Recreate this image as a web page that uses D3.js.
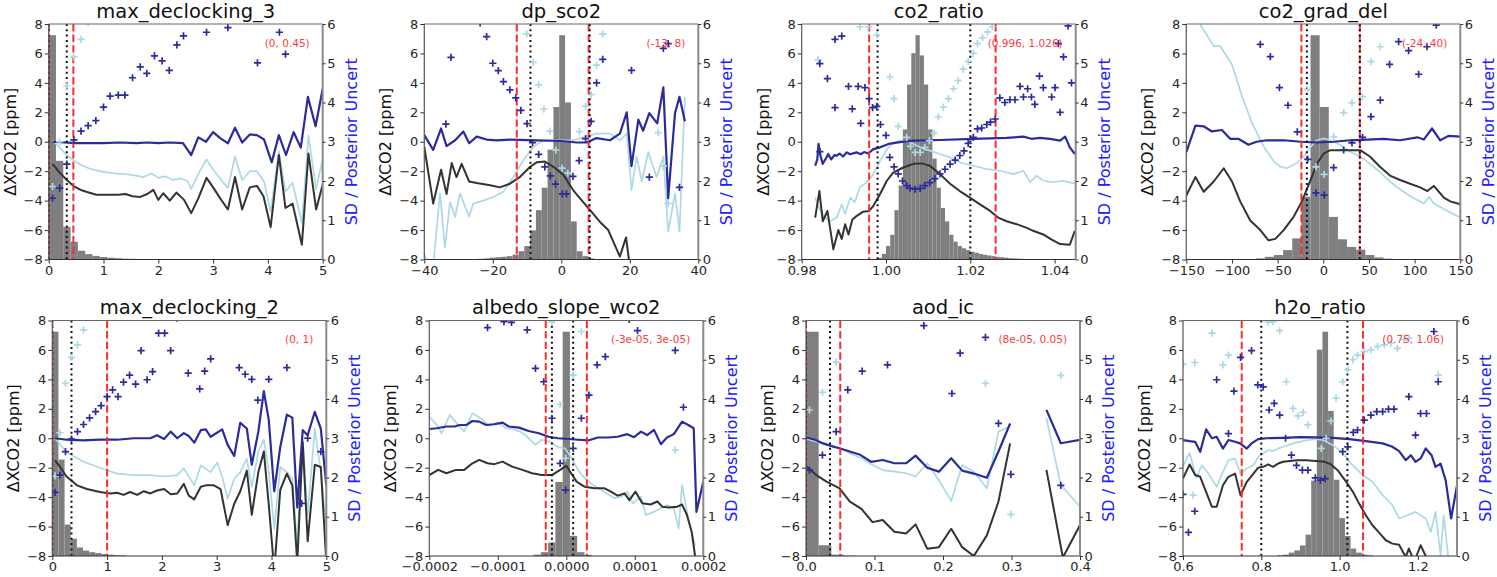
<!DOCTYPE html>
<html><head><meta charset="utf-8">
<script src="https://cdn.jsdelivr.net/npm/d3@7"></script>
<style>body{margin:0;background:#fff}svg text{font-family:"DejaVu Sans",sans-serif}</style>
</head><body><svg id="c" width="1497" height="577"></svg>
<script>
// ---------------- DATA ----------------
const titles = ["max_declocking_3","dp_sco2","co2_ratio","co2_grad_del","max_declocking_2","albedo_slope_wco2","aod_ic","h2o_ratio"];
const xDomains = [[0,5],[-40,40],[0.98,1.045],[-150,150],[0,5],[-2e-4,2e-4],[0,0.4],[0.6,1.3]];
const xTicks = [[0,1,2,3,4,5],[-40,-20,0,20,40],[0.98,1.0,1.02,1.04],[-150,-100,-50,0,50,100,150],[0,1,2,3,4,5],[-2e-4,-1e-4,0,1e-4,2e-4],[0,0.1,0.2,0.3,0.4],[0.6,0.8,1.0,1.2]];
const xTickLabels = [["0","1","2","3","4","5"],["−40","−20","0","20","40"],["0.98","1.00","1.02","1.04"],["−150","−100","−50","0","50","100","150"],["0","1","2","3","4","5"],["−0.0002","−0.0001","0.0000","0.0001","0.0002"],["0.0","0.1","0.2","0.3","0.4"],["0.6","0.8","1.0","1.2"]];
const yLeftTicks = [-8,-6,-4,-2,0,2,4,6,8];
const yLeftLabels = ["−8","−6","−4","−2","0","2","4","6","8"];
const yRightTicks = [0,1,2,3,4,5,6];
const yLeftTitle = "ΔXCO2 [ppm]";
const yRightTitle = "SD / Posterior Uncert";
const rangeLabels = ["(0, 0.45)","(-13, 8)","(0.996, 1.026)","(-24, 40)","(0, 1)","(-3e-05, 3e-05)","(8e-05, 0.05)","(0.75, 1.06)"];
const redBounds = [[0,0.45],[-13,8],[0.996,1.026],[-24,40],[0,1],[-3e-5,3e-5],[8e-5,0.05],[0.75,1.06]];
const dotBounds = [[0,0.33],[-9,8.3],[0.998,1.02],[-18,40],[0,0.35],[-2.1e-5,1.0e-5],[0,0.035],[0.8,1.02]];

// histograms (relative counts, max = 100)
const histStart = [0,-26.1,0.998,-74,0,-4.77e-5,0,0.8413];
const histWidth = [0.133,1.7,0.001,10,0.112,1.06e-5,0.0185,0.01437];
const histCounts = [
 [100,44,14.6,7.9,3.9,2.4,1.6,1.1,0.8,0.6,0.4,0.3],
 [0.2,0.3,0.5,0.8,1.0,1.2,1.5,2.2,3.7,6,13,22,32,49,68,100,70,17,3.7,1.5,0.5],
 [0.8,2.5,6,11,22,33,58,78,92,100,91,78,58,45,32,23,17,11,8,6,5,4.2,3.5,3,2.5,2.1,1.8,1.5,1.2,1.0,0.8,0.6,0.5,0.4,0.3,0.2,0.15,0.1],
 [0.5,1.2,2,4.2,9.4,28,100,68,19,9,5.6,4.4,2,0.9,0.4],
 [100,43,14,7.7,3.8,2.4,1.7,1.3,0.9,0.6,0.4,0.3],
 [0.6,1.7,6,33,100,9,1.7,0.5],
 [100,4.8,0.6,0.2],
 [0.3,0.6,1.5,2.5,4.7,9.5,33.6,92,100,64.7,34,16.9,8.9,3.3,1.5,0.6,0.3]
];

// mean ΔXCO2 (black), ΔXCO2 light-blue series, dark-blue series : left axis
const blackLines = [
 [[0.07,-1.5],[0.2,-2.1],[0.33,-2.6],[0.47,-3.05],[0.6,-3.3],[0.73,-3.45],[0.87,-3.6],[1.0,-3.6],[1.13,-3.6],[1.27,-3.6],[1.4,-3.55],[1.53,-3.7],[1.67,-3.75],[1.8,-3.55],[1.91,-3.27],[2.0,-3.95],[2.09,-3.5],[2.21,-4.0],[2.33,-3.45],[2.47,-3.95],[2.6,-4.85],[2.73,-3.85],[2.88,-2.45],[3.0,-3.1],[3.13,-3.85],[3.27,-4.6],[3.4,-2.4],[3.53,-4.6],[3.67,-3.1],[3.8,-3.0],[3.92,-3.7],[4.05,-5.8],[4.2,-0.9],[4.32,-4.5],[4.45,-4.2],[4.62,-7.0],[4.74,-0.8],[4.88,-4.6],[5.0,-2.9]],
 [[-40,-0.35],[-37.4,-4.2],[-35.1,-1.9],[-33.5,-3.55],[-32,-1.45],[-30.6,-2.4],[-29.1,-1.5],[-26.9,-2.7],[-24.7,-2.8],[-20.8,-2.95],[-17.9,-3.1],[-15,-2.85],[-12.1,-2.4],[-9.1,-1.7],[-7.2,-1.4],[-4.8,-1.35],[-2.3,-1.7],[0.6,-2.25],[3.5,-3.3],[6.4,-4.1],[8.4,-4.65],[11.3,-5.45],[13.7,-6.0],[17.1,-7.8],[18.9,-6.5],[19.9,-8.3]],
 [[0.9832,-5.15],[0.9842,-3.35],[0.985,-5.4],[0.9861,-4.7],[0.9875,-7.3],[0.9887,-6.0],[0.9895,-6.6],[0.9903,-5.6],[0.9911,-6.3],[0.992,-5.3],[0.993,-5.05],[0.9946,-4.75],[0.996,-4.7],[0.997,-4.35],[0.9986,-3.55],[1.0002,-2.65],[1.0017,-2.1],[1.0041,-1.75],[1.0065,-1.5],[1.0085,-1.47],[1.0104,-1.63],[1.0128,-2.2],[1.0152,-2.85],[1.0175,-3.35],[1.0199,-3.8],[1.0223,-4.25],[1.0247,-4.7],[1.0266,-5.15],[1.0286,-5.4],[1.031,-5.6],[1.0334,-5.85],[1.0349,-6.05],[1.0373,-6.3],[1.0393,-6.65],[1.0413,-6.95],[1.0436,-7.0],[1.0448,-6.05]],
 [[-150,-3.65],[-140,-2.4],[-131,-3.4],[-120,-2.7],[-109,-1.8],[-100,-2.7],[-91,-4.05],[-80,-5.35],[-69,-6.0],[-60,-6.7],[-52.5,-6.6],[-43.4,-6.0],[-32.5,-5.1],[-23.4,-4.05],[-14,-2.6],[-7,-1.5],[0.4,-0.8],[7.7,-0.57],[15,-0.57],[26,-0.57],[40.5,-0.57],[51,-1.0],[62,-1.7],[73,-2.3],[84,-2.6],[95,-2.85],[106,-3.1],[114,-3.35],[121,-3.0],[132,-3.8],[139,-4.05],[150,-4.25]],
 [[0.05,-1.5],[0.14,-1.95],[0.26,-2.6],[0.45,-3.2],[0.63,-3.45],[0.87,-3.65],[1.06,-3.75],[1.18,-3.7],[1.3,-3.85],[1.42,-3.65],[1.55,-3.85],[1.67,-3.6],[1.79,-3.75],[1.91,-3.55],[2.04,-3.45],[2.16,-3.8],[2.28,-3.75],[2.4,-3.1],[2.49,-3.9],[2.59,-4.15],[2.71,-3.3],[2.8,-3.2],[2.95,-3.2],[3.07,-3.45],[3.2,-5.9],[3.32,-4.45],[3.43,-3.6],[3.55,-2.2],[3.64,-5.2],[3.76,-2.3],[3.86,-0.9],[3.95,-4.5],[4.05,-9],[4.16,-3.5],[4.28,-2.4],[4.38,-3.2],[4.47,-8.5],[4.57,-0.25],[4.66,-7.0],[4.79,-1.8],[4.9,-1.95],[5.0,-8.4]],
 [[-2.0e-4,-2.5],[-1.87e-4,-2.15],[-1.75e-4,-2.38],[-1.61e-4,-2.15],[-1.49e-4,-2.15],[-1.37e-4,-1.7],[-1.27e-4,-1.47],[-1.15e-4,-1.7],[-1.05e-4,-1.76],[-0.93e-4,-1.59],[-0.79e-4,-1.93],[-0.64e-4,-2.15],[-0.5e-4,-2.38],[-0.36e-4,-2.5],[-0.21e-4,-2.5],[-0.09e-4,-2.15],[0,-1.87],[0.08e-4,-2.45],[0.15e-4,-2.95],[0.27e-4,-3.3],[0.41e-4,-3.4],[0.56e-4,-3.4],[0.65e-4,-3.63],[0.75e-4,-3.9],[0.85e-4,-3.75],[0.92e-4,-4.2],[1.01e-4,-3.63],[1.11e-4,-4.42],[1.23e-4,-4.5],[1.33e-4,-4.3],[1.4e-4,-4.65],[1.5e-4,-4.7],[1.62e-4,-4.65],[1.69e-4,-4.5],[1.76e-4,-5.2],[1.83e-4,-6.35],[1.88e-4,-8.0]],
 [[0.001,-1.93],[0.015,-2.5],[0.03,-2.95],[0.049,-3.4],[0.064,-4.3],[0.081,-4.8],[0.097,-5.7],[0.112,-5.55],[0.129,-6.35],[0.146,-6.47],[0.16,-5.85],[0.177,-7.5],[0.194,-7.4],[0.212,-6.15],[0.228,-7.4],[0.245,-8.0],[0.264,-6.6],[0.281,-4.3],[0.298,-0.35],null,[0.351,-2.15],[0.375,-8.1],[0.4,-5.9]],
 [[0.6,-2.73],[0.617,-1.78],[0.631,-2.5],[0.644,-2.62],[0.659,-3.64],[0.674,-4.66],[0.686,-4.66],[0.702,-3.19],[0.716,-2.62],[0.733,-2.4],[0.747,-3.87],[0.763,-2.96],[0.78,-2.4],[0.792,-2.0],[0.805,-1.94],[0.818,-1.78],[0.83,-1.94],[0.843,-1.72],[0.856,-1.6],[0.873,-1.55],[0.89,-1.49],[0.915,-1.49],[0.94,-1.55],[0.962,-1.6],[0.978,-1.78],[0.995,-2.17],[1.017,-2.96],[1.034,-3.64],[1.05,-4.44],[1.067,-5.23],[1.084,-5.91],[1.101,-6.41],[1.118,-6.93],[1.135,-7.16],[1.152,-7.23],[1.169,-8.07],[1.177,-7.5],[1.186,-8.07],[1.195,-8.1],[1.207,-7.27],[1.22,-8.0]]
];
const lightLines = [
 [[0.07,0.1],[0.2,-0.4],[0.33,-0.9],[0.47,-1.3],[0.6,-1.6],[0.73,-1.8],[0.87,-1.95],[1.0,-2.05],[1.2,-2.15],[1.4,-2.2],[1.6,-2.3],[1.73,-2.4],[1.87,-2.15],[2.0,-2.45],[2.13,-2.35],[2.27,-2.6],[2.4,-2.5],[2.53,-2.65],[2.6,-3.2],[2.73,-2.2],[2.88,-1.2],[3.0,-1.9],[3.13,-2.5],[3.27,-3.15],[3.4,-1.0],[3.53,-2.6],[3.67,-2.0],[3.8,-2.0],[3.93,-2.7],[4.05,-4.75],[4.2,-0.65],[4.32,-3.4],[4.45,-2.8],[4.62,-5.5],[4.74,0.4],[4.88,-3.2],[5.0,-1.2]],
 [[-40,-7.6],[-38.5,-8.6],[-37.4,-8.4],[-35.4,-3.5],[-34,-7.2],[-32.5,-4.1],[-31,-5.1],[-29.6,-3.5],[-26.9,-5.1],[-25.7,-4.2],[-22.8,-4.0],[-19.9,-3.75],[-16.9,-3.4],[-14,-2.4],[-11.1,-1.25],[-8.2,-0.35],[-5.3,0.1],[-2.3,0.1],[0.6,0.1],[3.5,0.1],[6.4,0.3],[10.3,0.55],[14.2,0.55],[17.1,0.1],[19.1,0.55],[20.5,-3.3],[22,-1.0],[23.5,-2.7],[25.4,-0.7],[27.8,-2.4],[29.8,-1.0],[31.2,-6.1],[33.2,-3.5],[34.5,-6.1],[36.1,3.05]],
 [[0.9832,-3.8],[0.9843,-4.6],[0.9855,-5.15],[0.9867,-5.4],[0.9883,-5.15],[0.9895,-4.25],[0.9903,-4.9],[0.9915,-3.8],[0.9926,-4.1],[0.9938,-3.1],[0.9954,-2.75],[0.997,-2.2],[0.9986,-1.3],[1.0002,-0.5],[1.0017,-0.1],[1.0033,0.08],[1.0057,-0.03],[1.0081,-0.38],[1.0104,-0.6],[1.0128,-0.83],[1.0152,-1.06],[1.0175,-1.4],[1.0207,-1.63],[1.0239,-1.85],[1.027,-1.97],[1.0302,-2.2],[1.0326,-1.97],[1.0342,-2.75],[1.0357,-2.3],[1.0373,-2.65],[1.0397,-2.75],[1.042,-2.65],[1.0448,-2.85]],
 [[-150,10],[-135,8],[-120,6.5],[-113,6.5],[-100,5.25],[-89,3.1],[-78,1.25],[-65,-0.35],[-54,-1.35],[-47,-1.7],[-40,-1.8],[-29,-1.45],[-21.5,-1.0],[-14,-0.35],[-7,0.1],[0.4,0.23],[7.7,0.1],[15,-0.1],[22,-0.35],[30,-0.7],[37,-0.9],[44,-1.15],[51,-1.5],[59,-1.9],[66,-2.3],[73,-2.7],[81,-3.1],[88,-3.4],[95,-3.7],[103,-3.95],[110,-4.2],[116,-3.75],[121,-4.2],[130,-4.5],[139,-4.8],[150,-5.15]],
 [[0.05,0],[0.26,-0.95],[0.57,-1.6],[0.87,-2.0],[1.18,-2.4],[1.49,-2.5],[1.79,-2.5],[2.04,-2.6],[2.28,-2.5],[2.4,-2.05],[2.59,-3.2],[2.71,-1.85],[2.89,-2.3],[3.01,-1.65],[3.1,-2.6],[3.2,-4.1],[3.32,-2.75],[3.43,-2.3],[3.55,-1.4],[3.64,-3.3],[3.76,-0.9],[3.86,-0.1],[3.95,-2.3],[4.05,-6.15],[4.16,-1.95],[4.28,-2.3],[4.38,-2.75],[4.47,-7.3],[4.57,-0.1],[4.66,-5.25],[4.79,0.65],[4.9,-2.3],[5.0,-5.9]],
 [[-2.0e-4,1.47],[-1.89e-4,0.9],[-1.82e-4,0.34],[-1.7e-4,1.59],[-1.58e-4,0.9],[-1.49e-4,0.45],[-1.37e-4,1.7],[-1.25e-4,1.36],[-1.13e-4,0.86],[-1.0e-4,1.06],[-0.88e-4,0.68],[-0.79e-4,0.63],[-0.67e-4,0.45],[-0.57e-4,0.1],[-0.45e-4,-0.45],[-0.36e-4,-0.1],[-0.24e-4,-0.23],[-0.12e-4,-0.6],[-0.02e-4,-0.68],[0.08e-4,-1.36],[0.17e-4,-2.15],[0.27e-4,-2.72],[0.39e-4,-3.17],[0.51e-4,-3.5],[0.7e-4,-4.08],[0.8e-4,-3.97],[0.89e-4,-3.63],[0.97e-4,-4.42],[1.09e-4,-3.97],[1.16e-4,-5.22],[1.28e-4,-5.0],[1.38e-4,-4.76],[1.47e-4,-4.54],[1.57e-4,-4.76],[1.64e-4,-6.12],[1.69e-4,-3.18],[1.78e-4,-5.45],[1.88e-4,-7.3]],
 [[0.001,-0.05],[0.015,-0.23],[0.03,-0.45],[0.049,-0.68],[0.064,-1.02],[0.081,-1.36],[0.097,-1.82],[0.112,-2.16],[0.129,-2.27],[0.146,-2.38],[0.16,-2.6],[0.177,-1.7],[0.194,-2.84],[0.212,-4.27],[0.228,-1.82],[0.245,-2.27],[0.264,-3.4],[0.281,0.45],[0.298,0.8],null,[0.351,1.36],[0.372,-3.18],[0.4,-4.65]],
 [[0.6,-1.9],[0.617,-1.0],[0.634,-2.7],[0.648,-1.84],[0.665,-2.4],[0.686,-3.3],[0.702,-2.28],[0.716,-1.49],[0.733,-1.37],[0.747,-2.4],[0.763,-2.05],[0.78,-1.84],[0.792,-1.26],[0.805,-1.03],[0.818,-0.81],[0.83,-0.87],[0.843,-0.69],[0.856,-0.58],[0.881,-0.35],[0.907,-0.19],[0.932,-0.06],[0.957,-0.12],[0.983,-0.47],[1.008,-1.03],[1.034,-1.84],[1.059,-2.51],[1.084,-2.96],[1.11,-3.87],[1.135,-4.55],[1.152,-5.45],[1.173,-5.23],[1.194,-5.0],[1.22,-5.45],[1.233,-6.37],[1.245,-5.0],[1.258,-7.96],[1.266,-5.23],[1.279,-8.4]]
];
const blueLines = [
 [[0.07,0],[0.5,-0.1],[1.0,-0.1],[1.3,-0.05],[1.6,-0.1],[1.8,-0.05],[2.0,-0.1],[2.2,-0.05],[2.45,-0.1],[2.6,-0.9],[2.73,0.3],[2.87,0],[3.0,0.65],[3.13,0.25],[3.27,-0.1],[3.4,0.95],[3.53,-0.05],[3.67,0.5],[3.8,0.45],[3.93,0.15],[4.07,-1.4],[4.2,0.45],[4.33,-0.9],[4.47,0.65],[4.6,-0.4],[4.73,3.05],[4.87,1.05],[5.0,3.6]],
 [[-40,0.45],[-37.4,-0.55],[-35.1,0.9],[-33.5,-0.3],[-31,0.1],[-28.6,0.7],[-26.9,-0.1],[-24.7,0.35],[-21.8,0.15],[-18.9,0.1],[-15,0.15],[-7.2,0.1],[0,0.05],[4.5,-0.05],[7.4,-0.05],[10.3,0.25],[14.2,0.1],[17.1,0.55],[19.1,2.0],[20.5,-1.65],[22.5,1.5],[23.9,0.75],[25.7,1.95],[28,1.25],[29.8,3.7],[31.2,-3.85],[33.2,1.95],[34.5,3.05],[36.1,1.4]],
 [[0.9832,-1.63],[0.9837,-1.2],[0.984,-0.15],[0.9845,-1.0],[0.985,-1.5],[0.9858,-1.1],[0.9863,-0.83],[0.987,-1.2],[0.9878,-0.9],[0.9883,-0.95],[0.989,-0.8],[0.9898,-1.0],[0.9907,-0.72],[0.9915,-0.85],[0.993,-0.72],[0.994,-0.85],[0.9948,-0.7],[0.9958,-0.8],[0.997,-0.5],[0.9986,-0.38],[1.0006,-0.15],[1.0033,-0.03],[1.0065,0.08],[1.0128,0.12],[1.0207,0.2],[1.0286,0.26],[1.0326,0.35],[1.0345,0.2],[1.0365,0.26],[1.0389,0.2],[1.0413,0.08],[1.0425,0.35],[1.0436,-0.38],[1.0448,-0.83]],
 [[-150,-0.7],[-140,1.1],[-131,1.05],[-122,0.7],[-111,0.8],[-102,0.2],[-93,0.2],[-82,-0.2],[-73,0],[-62,0.1],[-43,0.1],[-25,0],[-7,-0.05],[11,0],[30,0.1],[48,0.15],[66,0.2],[84,0.1],[103,0.3],[110,0.15],[119,0.9],[128,0.1],[137,0.4],[150,0.35]],
 [[0.05,0],[0.26,-0.1],[0.57,-0.15],[0.87,-0.1],[1.18,-0.1],[1.49,0],[1.79,0],[1.91,0.2],[2.04,-0.05],[2.16,0.45],[2.28,0],[2.4,0.35],[2.49,0.15],[2.59,-0.3],[2.71,0.55],[2.8,0.6],[2.89,0.1],[3.1,0.6],[3.2,-0.45],[3.32,-1.2],[3.43,1.05],[3.55,0.65],[3.64,-1.8],[3.76,0.45],[3.86,3.2],[3.95,1.25],[4.05,-3.6],[4.16,-0.6],[4.28,1.6],[4.38,1.4],[4.47,-4.7],[4.57,0.55],[4.66,0.2],[4.79,1.8],[4.9,0.65],[5.0,-3.2]],
 [[-2.0e-4,0.63],[-1.89e-4,0.68],[-1.75e-4,0.8],[-1.63e-4,0.8],[-1.56e-4,0.9],[-1.46e-4,0.9],[-1.37e-4,1.17],[-1.27e-4,1.13],[-1.17e-4,0.9],[-1.05e-4,0.95],[-0.93e-4,1.06],[-0.84e-4,0.8],[-0.69e-4,0.72],[-0.55e-4,0.49],[-0.4e-4,0.34],[-0.26e-4,0.1],[-0.12e-4,0],[0.03e-4,-0.05],[0.17e-4,-0.1],[0.32e-4,-0.15],[0.46e-4,0.05],[0.61e-4,0.05],[0.75e-4,0.1],[0.89e-4,0.28],[0.99e-4,0.07],[1.09e-4,0.45],[1.18e-4,0.22],[1.28e-4,0.57],[1.38e-4,-0.4],[1.47e-4,0.05],[1.57e-4,0.28],[1.69e-4,1.13],[1.78e-4,0.9],[1.86e-4,0.68],[1.9e-4,-5.0],[2.0e-4,-2.95]],
 [[0.001,0.05],[0.013,-0.1],[0.025,-0.35],[0.04,-0.57],[0.049,-0.68],[0.064,-0.9],[0.078,-1.1],[0.095,-1.6],[0.112,-1.48],[0.129,-1.7],[0.146,-1.7],[0.16,-1.18],[0.177,-2.0],[0.194,-2.27],[0.212,-1.36],[0.228,-2.2],[0.245,-2.4],[0.264,-2.68],[0.281,-0.9],[0.298,1.0],null,[0.351,1.93],[0.372,-0.34],[0.4,-0.11]],
 [[0.6,-0.12],[0.617,-0.2],[0.631,-0.24],[0.644,-0.92],[0.659,0.6],[0.674,0],[0.686,0.1],[0.702,-0.7],[0.716,-0.12],[0.733,-0.24],[0.746,-0.35],[0.763,-0.7],[0.775,-0.35],[0.792,-0.06],[0.813,0],[0.856,0.03],[0.898,0.08],[0.94,0.06],[0.983,0.03],[1.025,-0.06],[1.067,-0.2],[1.11,-0.35],[1.135,-0.58],[1.152,-0.87],[1.169,-1.49],[1.182,-1.15],[1.194,-1.6],[1.207,-1.37],[1.22,-0.69],[1.235,-1.15],[1.245,-1.94],[1.258,-1.72],[1.271,-2.85],[1.285,-5.45],[1.3,-3.2]]
];

// "+" markers : right axis (SD / posterior uncertainty)
const blueMarks = [
 [[0.07,1.56],[0.2,1.82],[0.33,2.43],[0.46,3.05],[0.59,3.27],[0.72,3.41],[0.86,3.54],[1.0,3.88],[1.12,4.16],[1.27,4.19],[1.39,4.19],[1.53,4.63],[1.67,4.91],[1.79,4.74],[1.93,5.19],[2.07,5.06],[2.2,4.82],[2.34,5.47],[2.46,5.7],[2.88,5.79],[3.27,5.91],[3.81,5.01],[4.21,5.79],[4.32,5.23]],
 [[-23.7,6.03],[-21.8,5.68],[-32.2,5.15],[-33.7,3.45],[-20,5.0],[-18.4,4.81],[-16.9,4.53],[-15,4.32],[-13.3,4.12],[-11.8,3.8],[-10,3.46],[-8.4,2.98],[-6.6,2.68],[-4.8,2.36],[-3.2,2.13],[-1.7,1.92],[0.3,1.67],[1.5,1.67],[3.4,2.12],[5.2,2.52],[7.1,3.08],[8.7,3.52],[10.3,4.5],[12.1,5.1],[20.5,4.82],[25.7,2.1],[29.8,5.38],[31.2,5.5],[34.5,1.84]],
 [[0.9843,4.99],[0.9843,2.75],[0.9861,4.61],[0.9879,5.61],[0.9895,5.69],[0.9879,3.87],[0.9911,4.41],[0.992,3.84],[0.9934,4.41],[0.994,3.47],[0.995,4.38],[0.996,4.1],[0.9968,3.87],[0.9978,3.9],[0.9987,3.44],[1.0,3.16],[1.0009,2.6],[1.0019,2.36],[1.0029,2.18],[1.0039,2.0],[1.0049,1.88],[1.0057,1.82],[1.0069,1.79],[1.0081,1.81],[1.0092,1.88],[1.0104,1.96],[1.0116,2.06],[1.0128,2.18],[1.014,2.3],[1.0152,2.43],[1.0164,2.53],[1.0175,2.65],[1.0185,2.77],[1.0195,2.96],[1.0207,3.11],[1.0217,3.33],[1.0227,3.35],[1.0239,3.44],[1.0248,3.5],[1.0259,3.58],[1.027,4.12],[1.0282,4.0],[1.0294,4.07],[1.0306,4.07],[1.0318,4.41],[1.0326,4.14],[1.0336,4.35],[1.0345,4.14],[1.0353,3.95],[1.0364,4.67],[1.0373,4.38],[1.0393,4.14],[1.0401,4.38],[1.0413,3.75],[1.0421,5.16],[1.0409,5.5],[1.0432,5.95],[1.044,4.5]],
 [[-69,5.48],[-58,5.17],[-48,4.38],[-38.7,3.93],[-28.5,3.25],[-17,2.55],[-8,1.7],[1,1.64],[11.3,2.34],[22.3,2.79],[31.4,2.97],[43,3.11],[52.2,3.64],[62.4,4.06],[72.6,4.97],[82.5,5.55],[93.4,5.32],[104.4,4.72],[113.5,5.42],[123.7,5.97]],
 [[0.05,1.62],[0.14,2.06],[0.24,2.66],[0.35,2.98],[0.46,3.17],[0.57,3.35],[0.68,3.52],[0.79,3.68],[0.89,3.83],[1.0,4.06],[1.1,4.23],[1.2,4.06],[1.3,4.43],[1.41,4.61],[1.52,4.38],[1.62,5.23],[1.73,4.49],[1.83,4.7],[1.94,5.68],[2.05,5.68],[2.16,5.23],[2.27,6.06],[2.48,4.66],[2.69,4.26],[2.78,4.71],[2.89,5.02],[3.41,4.8],[3.52,4.63],[3.64,4.5],[3.75,3.97],[3.95,4.5],[4.28,4.8],[4.55,1.34],[4.66,3.0],[4.9,2.66]],
 [[-1.15e-4,5.82],[-0.91e-4,5.97],[-0.8e-4,5.95],[-0.57e-4,5.76],[-0.45e-4,4.78],[-0.33e-4,4.44],[-0.21e-4,3.51],[-0.09e-4,2.36],[-0.01e-4,1.68],[0.1e-4,2.74],[0.22e-4,3.51],[0.33e-4,4.1],[0.45e-4,4.87],[0.57e-4,5.08],[0.92e-4,6.03],[1.04e-4,5.74],[1.59e-4,5.24],[1.71e-4,3.79]],
 [[0.005,2.19],[0.024,2.57],[0.044,3.17],[0.061,4.23],[0.082,4.71],[0.119,4.87],[0.172,5.87],[0.213,4.14],[0.225,5.17],[0.262,5.57],[0.281,3.38],[0.299,2.08],[0.372,1.8]],
 [[0.6,1.57],[0.614,0.6],[0.63,1.14],[0.686,4.49],[0.716,3.12],[0.73,4.2],[0.747,5.06],[0.775,5.23],[0.791,4.36],[0.805,4.31],[0.82,3.72],[0.833,3.89],[0.847,3.59],[0.862,3.0],[0.877,2.57],[0.89,2.31],[0.905,2.19],[0.919,2.19],[0.938,1.99],[0.951,1.93],[0.963,1.97],[1.008,2.66],[1.021,2.78],[1.035,3.15],[1.046,3.21],[1.063,3.46],[1.08,3.59],[1.095,3.68],[1.11,3.68],[1.125,3.74],[1.139,3.74],[1.152,6.16],[1.177,4.06],[1.194,3.08],[1.207,3.63],[1.222,3.63],[1.241,5.72],[1.252,4.44]]
];
const lightMarks = [
 [[0.07,1.86],[0.2,3.0],[0.33,4.42],[0.46,5.16],[0.59,5.61],[0.72,6.04]],
 [[-10.1,5.75],[-8.2,5.02],[-6.6,4.45],[-5.1,3.83],[-3.3,3.27],[-1.6,2.79],[0.2,2.33],[1.9,2.2],[5.3,3.26],[7.1,3.91],[8.7,4.2],[10.3,4.95],[12.1,5.74],[28.3,3.23],[29.8,2.38],[31.2,1.43]],
 [[0.9839,5.09],[0.9938,5.93],[0.9958,5.93],[0.9978,5.72],[1.0009,4.65],[1.0019,4.1],[1.0029,3.39],[1.0049,3.11],[1.0058,2.88],[1.0069,2.73],[1.0081,2.73],[1.0092,2.86],[1.0103,3.03],[1.0114,3.22],[1.0124,3.63],[1.0136,3.88],[1.0148,4.1],[1.016,4.35],[1.0171,4.56],[1.0183,4.85],[1.0195,5.05],[1.0207,5.25],[1.0217,5.5],[1.0229,5.65],[1.0241,5.8],[1.0252,5.93]],
 [[-17,4.33],[-8,2.36],[1,2.17],[11.3,3.13],[22.3,3.74],[31.4,3.99],[43,4.15],[52.2,5.04],[62.4,5.42]],
 [[0.05,2.04],[0.14,3.14],[0.24,4.4],[0.35,5.06],[0.46,5.38],[0.57,5.76]],
 [[-0.21e-4,5.96],[-0.09e-4,3.86],[-0.01e-4,2.49],[0.1e-4,4.61],[0.22e-4,5.72],[1.59e-4,2.7]],
 [[0.005,3.72],[0.024,4.17],[0.044,4.94],[0.262,4.4],[0.299,1.06],[0.372,4.6]],
 [[0.6,4.89],[0.626,1.55],[0.63,4.93],[0.674,5.68],[0.702,4.87],[0.716,5.12],[0.818,5.96],[0.83,5.97],[0.847,5.74],[0.864,4.44],[0.881,3.76],[0.894,3.57],[0.907,3.66],[0.919,3.34],[0.953,2.74],[0.966,3.0],[0.978,3.44],[0.991,4.02],[1.008,4.44],[1.021,4.74],[1.034,5.0],[1.046,5.12],[1.063,5.21],[1.08,5.25],[1.097,5.34],[1.114,5.38],[1.131,5.42],[1.148,5.29],[1.165,5.51],[1.177,5.55],[1.252,4.61]]
];

// ---------------- LAYOUT ----------------
const panelLeft = [48.7,424.3,801.7,1186.3,52.3,429.3,806,1183];
const panelTop = [24,24,24,24,320.5,320.5,320.5,320.5];
const W = 274, H = 235.5;
const C = {hist:"#7f7f7f", black:"#333333", light:"#add8e6", blue:"#2b2b9b", red:"#ff2a2a", label:"#2020ff", tick:"#262626"};

const svg = d3.select("#c");

titles.forEach((title,i)=>{
  const g = svg.append("g").attr("transform",`translate(${panelLeft[i]},${panelTop[i]})`);
  const x = d3.scaleLinear().domain(xDomains[i]).range([0,W]);
  const yL = d3.scaleLinear().domain([-8,8]).range([H,0]);
  const yR = d3.scaleLinear().domain([0,6]).range([H,0]);
  const yH = d3.scaleLinear().domain([0,105]).range([H,0]);

  const cid = "clip"+i;
  g.append("clipPath").attr("id",cid).append("rect").attr("width",W).attr("height",H);
  const plot = g.append("g").attr("clip-path",`url(#${cid})`);

  // histogram
  const bins = histCounts[i].map((c,k)=>({x0:histStart[i]+k*histWidth[i], x1:histStart[i]+(k+1)*histWidth[i], c}));
  plot.selectAll("rect.h").data(bins).join("rect").attr("class","h")
    .attr("x",d=>x(d.x0)).attr("width",d=>Math.max(0,x(d.x1)-x(d.x0)))
    .attr("y",d=>yH(d.c)).attr("height",d=>H-yH(d.c)).attr("fill",C.hist);

  const line = d3.line().defined(d=>d!==null).x(d=>x(d[0])).y(d=>yL(d[1]));
  plot.append("path").attr("d",line(lightLines[i])).attr("fill","none").attr("stroke",C.light).attr("stroke-width",1.7).attr("stroke-linejoin","round");
  plot.append("path").attr("d",line(blackLines[i])).attr("fill","none").attr("stroke",C.black).attr("stroke-width",2).attr("stroke-linejoin","round");
  plot.append("path").attr("d",line(blueLines[i])).attr("fill","none").attr("stroke",C.blue).attr("stroke-width",2.2).attr("stroke-linejoin","round");

  // vertical markers
  plot.selectAll("line.r").data(redBounds[i]).join("line").attr("class","r")
    .attr("x1",d=>x(d)).attr("x2",d=>x(d)).attr("y1",0).attr("y2",H)
    .attr("stroke",C.red).attr("stroke-width",2).attr("stroke-dasharray","7.4,3.2");
  plot.selectAll("line.d").data(dotBounds[i]).join("line").attr("class","d")
    .attr("x1",d=>x(d)).attr("x2",d=>x(d)).attr("y1",0).attr("y2",H)
    .attr("stroke","#111").attr("stroke-width",2).attr("stroke-dasharray","2,3.3");

  // + markers
  const plus = (d,s)=>{const cx=x(d[0]), cy=yR(d[1]); return `M${cx-s},${cy}H${cx+s}M${cx},${cy-s}V${cy+s}`;};
  plot.append("path").attr("d",lightMarks[i].map(d=>plus(d,3.6)).join("")).attr("stroke",C.light).attr("stroke-width",1.7).attr("fill","none");
  plot.append("path").attr("d",blueMarks[i].map(d=>plus(d,3.6)).join("")).attr("stroke",C.blue).attr("stroke-width",1.7).attr("fill","none");

  // frame
  g.append("line").attr("x1",0).attr("x2",W).attr("y1",0).attr("y2",0).attr("stroke","#666").attr("stroke-width",1);
  g.append("line").attr("x1",0).attr("x2",W).attr("y1",H).attr("y2",H).attr("stroke","#333").attr("stroke-width",1);
  g.append("line").attr("x1",0).attr("x2",0).attr("y1",0).attr("y2",H).attr("stroke","#555").attr("stroke-width",1.2);
  g.append("line").attr("x1",W).attr("x2",W).attr("y1",0).attr("y2",H).attr("stroke","#8a8a8a").attr("stroke-width",2);

  // axes
  const ax = g.append("g").attr("transform",`translate(0,${H})`)
    .call(d3.axisBottom(x).tickValues(xTicks[i]).tickFormat((d,j)=>xTickLabels[i][j]).tickSize(4).tickPadding(2));
  const ayl = g.append("g").call(d3.axisLeft(yL).tickValues(yLeftTicks).tickFormat((d,j)=>yLeftLabels[j]).tickSize(4).tickPadding(2));
  const ayr = g.append("g").attr("transform",`translate(${W},0)`)
    .call(d3.axisRight(yR).tickValues(yRightTicks).tickFormat(d3.format("d")).tickSize(3).tickPadding(1.5));
  [ax,ayl,ayr].forEach(a=>{
    a.select(".domain").remove();
    a.selectAll("line").attr("stroke","#333");
    a.selectAll("text").attr("font-size",13).attr("fill",C.tick).attr("font-family","DejaVu Sans");
  });

  // titles & labels
  g.append("text").attr("x",W/2).attr("y",-6.5).attr("text-anchor","middle")
    .attr("font-size",19.5).attr("fill","#111").text(title);
  g.append("text").attr("transform",`translate(-33,${H/2}) rotate(-90)`).attr("text-anchor","middle")
    .attr("font-size",16).attr("fill","#111").text(yLeftTitle);
  g.append("text").attr("transform",`translate(${W+34},${H/2}) rotate(-90)`).attr("text-anchor","middle")
    .attr("font-size",16).attr("fill",C.label).text(yRightTitle);
  g.append("text").attr("x",W-13).attr("y",22.5).attr("text-anchor","end")
    .attr("font-size",10.5).attr("fill","#ff3b3b").text(rangeLabels[i]);
});
</script>
</body></html>
